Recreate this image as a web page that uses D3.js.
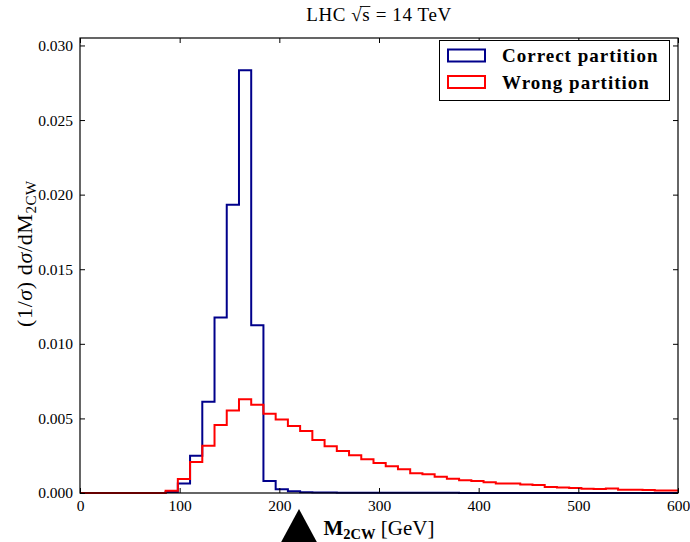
<!DOCTYPE html>
<html>
<head>
<meta charset="utf-8">
<script src="https://cdn.jsdelivr.net/npm/d3@7"></script>
<style>
  html, body { margin: 0; padding: 0; background: #fff; }
  svg { display: block; }
  text { font-family: "Liberation Serif", "DejaVu Serif", serif; fill: #000; }
</style>
</head>
<body>
<svg id="chart" width="690" height="542"></svg>
<script>
// ---- data ----
const binEdges = [0, 12.27, 24.54, 36.81, 49.08, 61.35, 73.62, 85.89, 98.16, 110.43,
  122.70, 134.97, 147.24, 159.51, 171.78, 184.05, 196.32, 208.59, 220.86, 233.13,
  245.40, 257.67, 269.94, 282.21, 294.48, 306.75, 319.02, 331.29, 343.56, 355.83,
  368.10, 380.37, 392.64, 404.91, 417.18, 429.45, 441.72, 453.99, 466.26, 478.53,
  490.80, 503.07, 515.34, 527.61, 539.88, 552.15, 564.42, 576.69, 588.96, 601.23];

const correctPartition = [0, 0, 0, 0, 0, 0, 0, 0.00006, 0.00064, 0.00250,
  0.00612, 0.01177, 0.01933, 0.02833, 0.01125, 0.00081, 0.00025, 0.00011, 0.00005, 0.00004,
  0.00003, 0.00002, 0.00002, 0.00002, 0.00002, 0.00001, 0.00001, 0.00001, 0.00001, 0.00001,
  0.00001, 0.000005, 0.000005, 0.000005, 0.000005, 0.000005, 0.000005, 0.000005, 0.000005, 0.000005,
  0.000005, 0.000005, 0.000005, 0.000005, 0.000005, 0.000005, 0.000005, 0.000005, 0.000005];

const wrongPartition = [0, 0, 0, 0, 0, 0, 0, 0.00015, 0.00094, 0.00208,
  0.00317, 0.00455, 0.00553, 0.00629, 0.00592, 0.00531, 0.00493, 0.00449, 0.00416, 0.00355,
  0.00313, 0.00281, 0.00253, 0.00226, 0.00201, 0.00180, 0.00160, 0.00132, 0.00125, 0.00109,
  0.00095, 0.00086, 0.00080, 0.00072, 0.00063, 0.00064, 0.00057, 0.00054, 0.00041, 0.00037,
  0.00034, 0.00029, 0.00027, 0.00030, 0.00022, 0.00022, 0.00020, 0.00016, 0.00016];

const xTicks = [0, 100, 200, 300, 400, 500, 600];
const yTicks = [0.000, 0.005, 0.010, 0.015, 0.020, 0.025, 0.030];
const seriesNames = ["Correct partition", "Wrong partition"];
const seriesColors = ["#00008b", "#ff0000"];

// ---- layout ----
const L = 80, R = 678, T = 38, B = 493;
const svg = d3.select("#chart");

const x = d3.scaleLinear().domain([0, 600]).range([L, R]);
const y = d3.scaleLinear().domain([0, 0.0305]).range([B, T]);

svg.append("defs").append("clipPath").attr("id", "plotclip")
  .append("rect").attr("x", L).attr("y", T - 2).attr("width", R - L).attr("height", B - T + 4);

function stepPoints(vals) {
  const pts = [[binEdges[0], 0]];
  vals.forEach((v, i) => { pts.push([binEdges[i], v]); pts.push([binEdges[i + 1], v]); });
  pts.push([binEdges[vals.length], 0]);
  return pts;
}
const line = d3.line().x(d => x(d[0])).y(d => y(d[1]));

const plot = svg.append("g").attr("clip-path", "url(#plotclip)");
[correctPartition, wrongPartition].forEach((vals, k) => {
  plot.append("path")
    .attr("d", line(stepPoints(vals)))
    .attr("fill", "none")
    .attr("stroke", seriesColors[k])
    .attr("stroke-width", 2)
    .attr("stroke-linejoin", "miter");
});

// ---- axes ----
const tickLen = 5;
const gB = svg.append("g").attr("transform", `translate(0,${B})`)
  .call(d3.axisBottom(x).tickValues(xTicks).tickFormat(d3.format("d"))
    .tickSizeInner(-tickLen).tickSizeOuter(0).tickPadding(7));
const gT = svg.append("g").attr("transform", `translate(0,${T})`)
  .call(d3.axisTop(x).tickValues(xTicks).tickFormat("")
    .tickSizeInner(-tickLen).tickSizeOuter(0));
const gL = svg.append("g").attr("transform", `translate(${L},0)`)
  .call(d3.axisLeft(y).tickValues(yTicks).tickFormat(d3.format(".3f"))
    .tickSizeInner(-tickLen).tickSizeOuter(0).tickPadding(7));
const gR = svg.append("g").attr("transform", `translate(${R},0)`)
  .call(d3.axisRight(y).tickValues(yTicks).tickFormat("")
    .tickSizeInner(-tickLen).tickSizeOuter(0));

[gB, gT, gL, gR].forEach(g => {
  g.select(".domain").remove();
  g.selectAll(".tick line").attr("stroke", "#000").attr("stroke-width", 1);
  g.selectAll(".tick text")
    .style("font-family", '"Liberation Serif", serif')
    .style("font-size", "15.5px").attr("fill", "#000");
});

// frame
svg.append("rect").attr("x", L).attr("y", T).attr("width", R - L).attr("height", B - T)
  .attr("fill", "none").attr("stroke", "#000").attr("stroke-width", 1.2);

// ---- title ----
const title = svg.append("text").attr("x", (L + R) / 2).attr("y", 21)
  .attr("text-anchor", "middle").style("font-size", "19px").style("letter-spacing", "0.6px");
title.append("tspan").text("LHC ");
title.append("tspan").text("\u221A");
title.append("tspan").text("s");
title.append("tspan").text(" = 14 TeV");
{
  const el = title.node();
  const s0 = el.getStartPositionOfChar(5);
  const e0 = el.getEndPositionOfChar(5);
  const r0 = el.getStartPositionOfChar(4);
  svg.append("line")
    .attr("x1", (r0.x + s0.x) / 2 + 3).attr("x2", e0.x)
    .attr("y1", 21 - 14.5).attr("y2", 21 - 14.5)
    .attr("stroke", "#000").attr("stroke-width", 0.9);
}

// ---- axis labels ----
const xl = svg.append("text").attr("x", (L + R) / 2).attr("y", 535)
  .attr("text-anchor", "middle").style("font-size", "21px");
xl.append("tspan").text("M").style("font-weight", "bold");
xl.append("tspan").text("2CW").style("font-weight", "bold").style("font-size", "14.5px").attr("dy", 4);
xl.append("tspan").text(" [GeV]").attr("dy", -4);

const yl = svg.append("text")
  .attr("transform", `translate(32,${(T + B) / 2 - 12}) rotate(-90)`)
  .attr("text-anchor", "middle").style("font-size", "22px").style("letter-spacing", "0.6px");
yl.append("tspan").text("(1/");
yl.append("tspan").text("\u03C3").style("font-style", "italic");
yl.append("tspan").text(") d");
yl.append("tspan").text("\u03C3").style("font-style", "italic");
yl.append("tspan").text("/dM");
yl.append("tspan").text("2CW").style("font-size", "15px").attr("dy", 4);

// ---- legend ----
const lg = svg.append("g");
lg.append("rect").attr("x", 439.5).attr("y", 40.5).attr("width", 230).attr("height", 60)
  .attr("fill", "#fff").attr("stroke", "#000").attr("stroke-width", 1);
seriesNames.forEach((name, i) => {
  const cy = 55.5 + i * 26.5;
  lg.append("rect").attr("x", 448).attr("y", cy - 6).attr("width", 37).attr("height", 12)
    .attr("fill", "none").attr("stroke", seriesColors[i]).attr("stroke-width", 2);
  lg.append("text").attr("x", 502).attr("y", cy + 6.5)
    .style("font-size", "19px").style("font-weight", "bold").style("letter-spacing", "1px")
    .text(name);
});

// ---- black triangle marker below the axis ----
svg.append("path")
  .attr("d", d3.line()([[299, 509], [319, 546], [279, 546]]) + "Z")
  .attr("fill", "#000");
</script>
</body>
</html>
